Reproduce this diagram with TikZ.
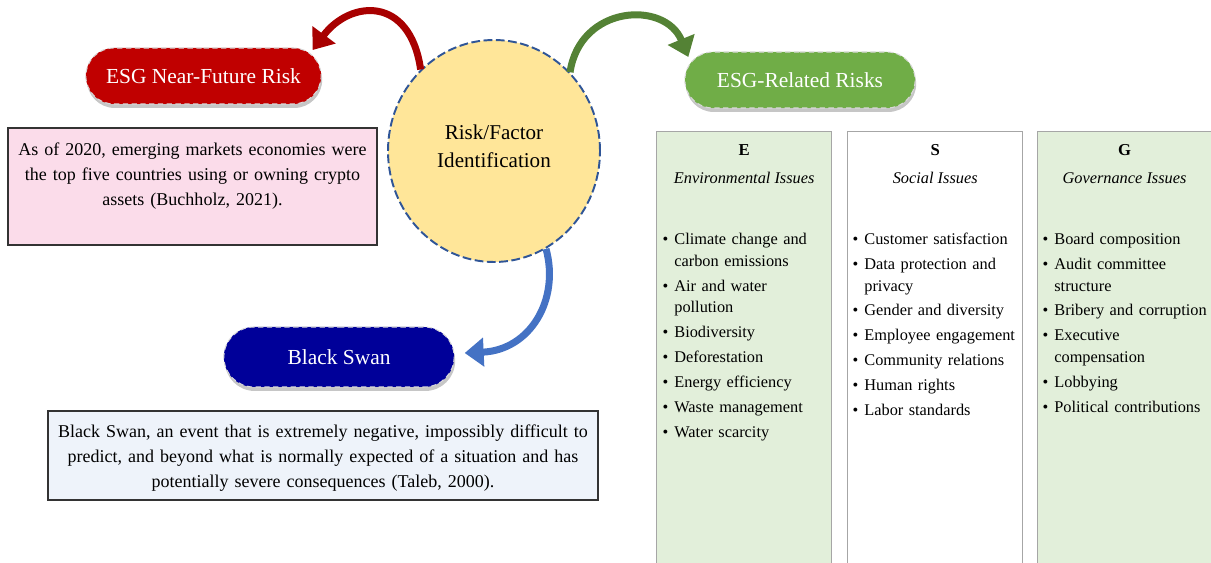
\documentclass[tikz,border=0pt]{standalone}
\usepackage{fontspec}
\setmainfont{Liberation Serif}
\usepackage{enumitem}
\usetikzlibrary{positioning,calc,shapes.geometric,shapes.misc,shadows,arrows.meta}

\newlength{\du}
\setlength{\du}{0.02cm}

\definecolor{nfrred}{HTML}{C00000}
\definecolor{nfrarrow}{HTML}{A80000}
\definecolor{esggreen}{HTML}{70AD47}
\definecolor{esgarrow}{HTML}{548235}
\definecolor{swanblue}{HTML}{000099}
\definecolor{swanarrow}{HTML}{4472C4}
\definecolor{circyellow}{HTML}{FFE699}
\definecolor{circblue}{HTML}{2F5597}
\definecolor{notepink}{HTML}{FBDCEA}
\definecolor{noteblue}{HTML}{EEF3FA}
\definecolor{colgreen}{HTML}{E2EFDA}
\definecolor{colline}{HTML}{A6A6A6}

\newlist{esglist}{itemize}{1}
\setlist[esglist]{label=\textbullet, leftmargin=17\du, labelsep=6\du, itemsep=1.7pt, parsep=0pt, topsep=0pt, partopsep=0pt}

\tikzset{
  pill/.style={rounded rectangle, minimum width=242\du, minimum height=56\du, text=white,
    font=\fontsize{12.2}{14}\selectfont, draw=white!70!gray, densely dashed, line width=0.6pt,
    drop shadow={shadow xshift=1\du, shadow yshift=-4\du, fill=black!50, opacity=0.45}},
  notebox/.style={rectangle, draw=black!80, line width=0.8pt, align=center, inner sep=0pt,
    font=\fontsize{10.25}{14.2}\selectfont},
  colbox/.style={rectangle, draw=colline, line width=0.8pt, anchor=north west,
    minimum width=175\du, minimum height=450\du},
  colhead/.style={anchor=base, inner sep=0pt, font=\fontsize{9.5}{12}\selectfont\bfseries},
  colsub/.style={anchor=base, inner sep=0pt, font=\fontsize{9.3}{12}\selectfont\itshape},
  collist/.style={anchor=north west, inner sep=0pt, text width=172\du, align=left,
    font=\fontsize{9.3}{12.47}\selectfont},
  bendarrow/.style={line width=7\du, -{Triangle[length=0.38cm,width=0.56cm]}},
}

\begin{document}
\begin{tikzpicture}
\path[use as bounding box] (0,0) rectangle (1211\du,-563\du);
\clip (0,0) rectangle (1211\du,-563\du);

% centre
\node[ellipse, draw=circblue, fill=circyellow, dash pattern=on 5pt off 2pt, line width=1.1pt,
  minimum width=212\du, minimum height=222\du] (riskid) at (494\du,-151\du) {};
\node[align=center, font=\fontsize{12}{16}\selectfont] (riskidtxt) at ($(riskid.center)+(0,5\du)$) {Risk/Factor\\Identification};

% pills
\node[pill, fill=nfrred, minimum width=247\du] (nfrisk) at (203.5\du,-76\du) {ESG Near-Future Risk};
\node[pill, fill=esggreen] (esgrisk) at (800\du,-80\du) {ESG-Related Risks};
\node[pill, fill=swanblue, minimum height=60\du] (bswan) at (339\du,-357\du) {Black Swan};

% notes
\node[notebox, fill=notepink, minimum width=369\du, minimum height=117\du, text width=366\du]
  (nfrnote) at (192.5\du,-186.5\du)
  {As of 2020, emerging markets economies were\\the top five countries using or owning crypto\\assets (Buchholz, 2021).\\~};
\node[notebox, fill=noteblue, minimum width=550\du, minimum height=89\du] (bsnote) at (323\du,-455.5\du) {};
\node[notebox, draw=none, text width=547\du] (bsnotetxt) at ($(bsnote.center)+(0,-3\du)$)
  {Black Swan, an event that is extremely negative, impossibly difficult to\\predict, and beyond what is normally expected of a situation and has\\potentially severe consequences (Taleb, 2000).};

% E S G columns
\node[colbox, fill=colgreen] (ecol) at (656\du,-131\du) {};
\node[colbox] (scol) at (847\du,-131\du) {};
\node[colbox, fill=colgreen, minimum width=190\du] (gcol) at (1037\du,-131\du) {};

\node[colhead] (ehead) at ($(ecol.north)+(0,-24.5\du)$) {E};
\node[colhead] (shead) at ($(scol.north)+(0,-24.5\du)$) {S};
\node[colhead] (ghead) at (1124.5\du,-155.5\du) {G};
\node[colsub] (esub) at ($(ecol.north)+(0,-53\du)$) {Environmental Issues};
\node[colsub] (ssub) at ($(scol.north)+(0,-53\du)$) {Social Issues};
\node[colsub] (gsub) at (1124.5\du,-184\du) {Governance Issues};

\node[collist] (elist) at ($(ecol.north west)+(1\du,-91\du)$) {%
\begin{esglist}
\item Climate change and\newline carbon emissions
\item Air and water\newline pollution
\item Biodiversity
\item Deforestation
\item Energy efficiency
\item Waste management
\item Water scarcity
\end{esglist}};
\node[collist] (slist) at ($(scol.north west)+(0\du,-91\du)$) {%
\begin{esglist}
\item Customer satisfaction
\item Data protection and\newline privacy
\item Gender and diversity
\item Employee engagement
\item Community relations
\item Human rights
\item Labor standards
\end{esglist}};
\node[collist] (glist) at ($(gcol.north west)+(0\du,-91\du)$) {%
\begin{esglist}
\item Board composition
\item Audit committee\newline structure
\item Bribery and corruption
\item Executive\newline compensation
\item Lobbying
\item Political contributions
\end{esglist}};

% curved arrows
\draw[bendarrow, draw=nfrarrow] (riskid.132) .. controls (410\du,5\du) and (350\du,0\du) .. ($(nfrisk.east)+(-9\du,26\du)$);
\draw[bendarrow, draw=esgarrow] (riskid.46) .. controls (580\du,-5\du) and (665\du,0\du) .. ($(esgrisk.west)+(4\du,23\du)$);
\draw[bendarrow, draw=swanarrow] (riskid.-62) .. controls (560\du,-300\du) and (530\du,-350\du) .. ($(bswan.east)+(10\du,4\du)$);
\end{tikzpicture}
\end{document}
